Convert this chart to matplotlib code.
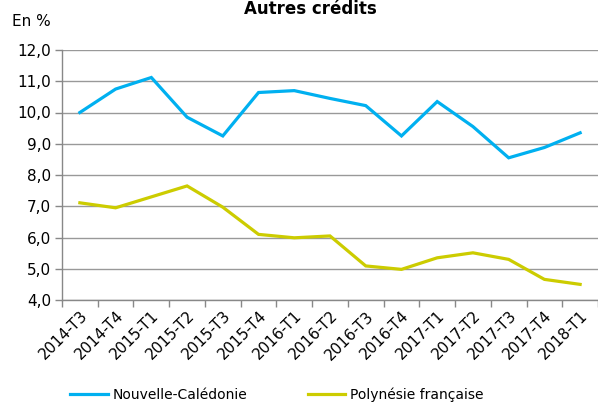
import matplotlib
matplotlib.use("Agg")
import matplotlib.pyplot as plt
from matplotlib.lines import Line2D

categories = ["2014-T3", "2014-T4", "2015-T1", "2015-T2", "2015-T3", "2015-T4",
              "2016-T1", "2016-T2", "2016-T3", "2016-T4", "2017-T1", "2017-T2",
              "2017-T3", "2017-T4", "2018-T1"]
nouvelle_caledonie = [10.0, 10.75, 11.12, 9.85, 9.25, 10.64, 10.7, 10.45, 10.22,
                      9.25, 10.35, 9.55, 8.55, 8.88, 9.35]
polynesie = [7.11, 6.95, 7.3, 7.65, 6.97, 6.1, 5.99, 6.05, 5.09, 4.98, 5.35,
             5.51, 5.3, 4.66, 4.5]
yticks = [4, 5, 6, 7, 8, 9, 10, 11, 12]

plt.rcParams['font.family'] = ['DejaVu Sans']
fig = plt.figure(figsize=(5.98, 4.08), dpi=100)
ax = fig.add_axes([62/598, 108/408, 536/598, 250/408])

x = list(range(len(categories)))
ax.plot(x, nouvelle_caledonie, color="#00B0F0", lw=2.3, solid_joinstyle="miter")
ax.plot(x, polynesie, color="#CCCC00", lw=2.3, solid_joinstyle="miter")

ax.set_ylim(4, 12)
ax.set_yticks(yticks)
ax.set_yticklabels([f"{v:.1f}".replace(".", ",") for v in yticks], fontsize=11)
ax.set_xlim(-0.5, 14.22)
ax.set_xticks(x)
ax.set_xticklabels(categories, rotation=45, ha="right", rotation_mode="anchor", fontsize=11)
ax.set_xticks([i - 0.5 for i in range(16)], minor=True)
ax.tick_params(axis="x", which="major", length=0, pad=6)
ax.tick_params(axis="x", which="minor", length=5, color="#888888", width=1)
ax.tick_params(axis="y", length=5, color="#888888", width=1, pad=3)

ax.grid(axis="y", color="#999999", lw=1)
ax.set_axisbelow(True)
for s in ["top", "right"]:
    ax.spines[s].set_visible(False)
ax.spines["left"].set_color("#888888")
ax.spines["bottom"].set_color("#888888")
ax.spines["left"].set_linewidth(1)
ax.spines["bottom"].set_linewidth(1)

fig.text(310/598, 1.0, "Autres crédits", ha="center", va="top",
         fontsize=12, fontweight="bold")
fig.text(12/598, 1 - 14/408, "En %", ha="left", va="top", fontsize=11)

handles = [Line2D([], [], color="#00B0F0", lw=2.3),
           Line2D([], [], color="#CCCC00", lw=2.3)]
fig.legend(handles, ["Nouvelle-Calédonie", "Polynésie française"], ncol=2,
           loc="center left", bbox_to_anchor=(70/598, 1 - 395/408), frameon=False,
           fontsize=10, handlelength=2.7, columnspacing=4.35, handletextpad=0.35,
           borderpad=0, borderaxespad=0)

fig.savefig("out.png", dpi=100)
